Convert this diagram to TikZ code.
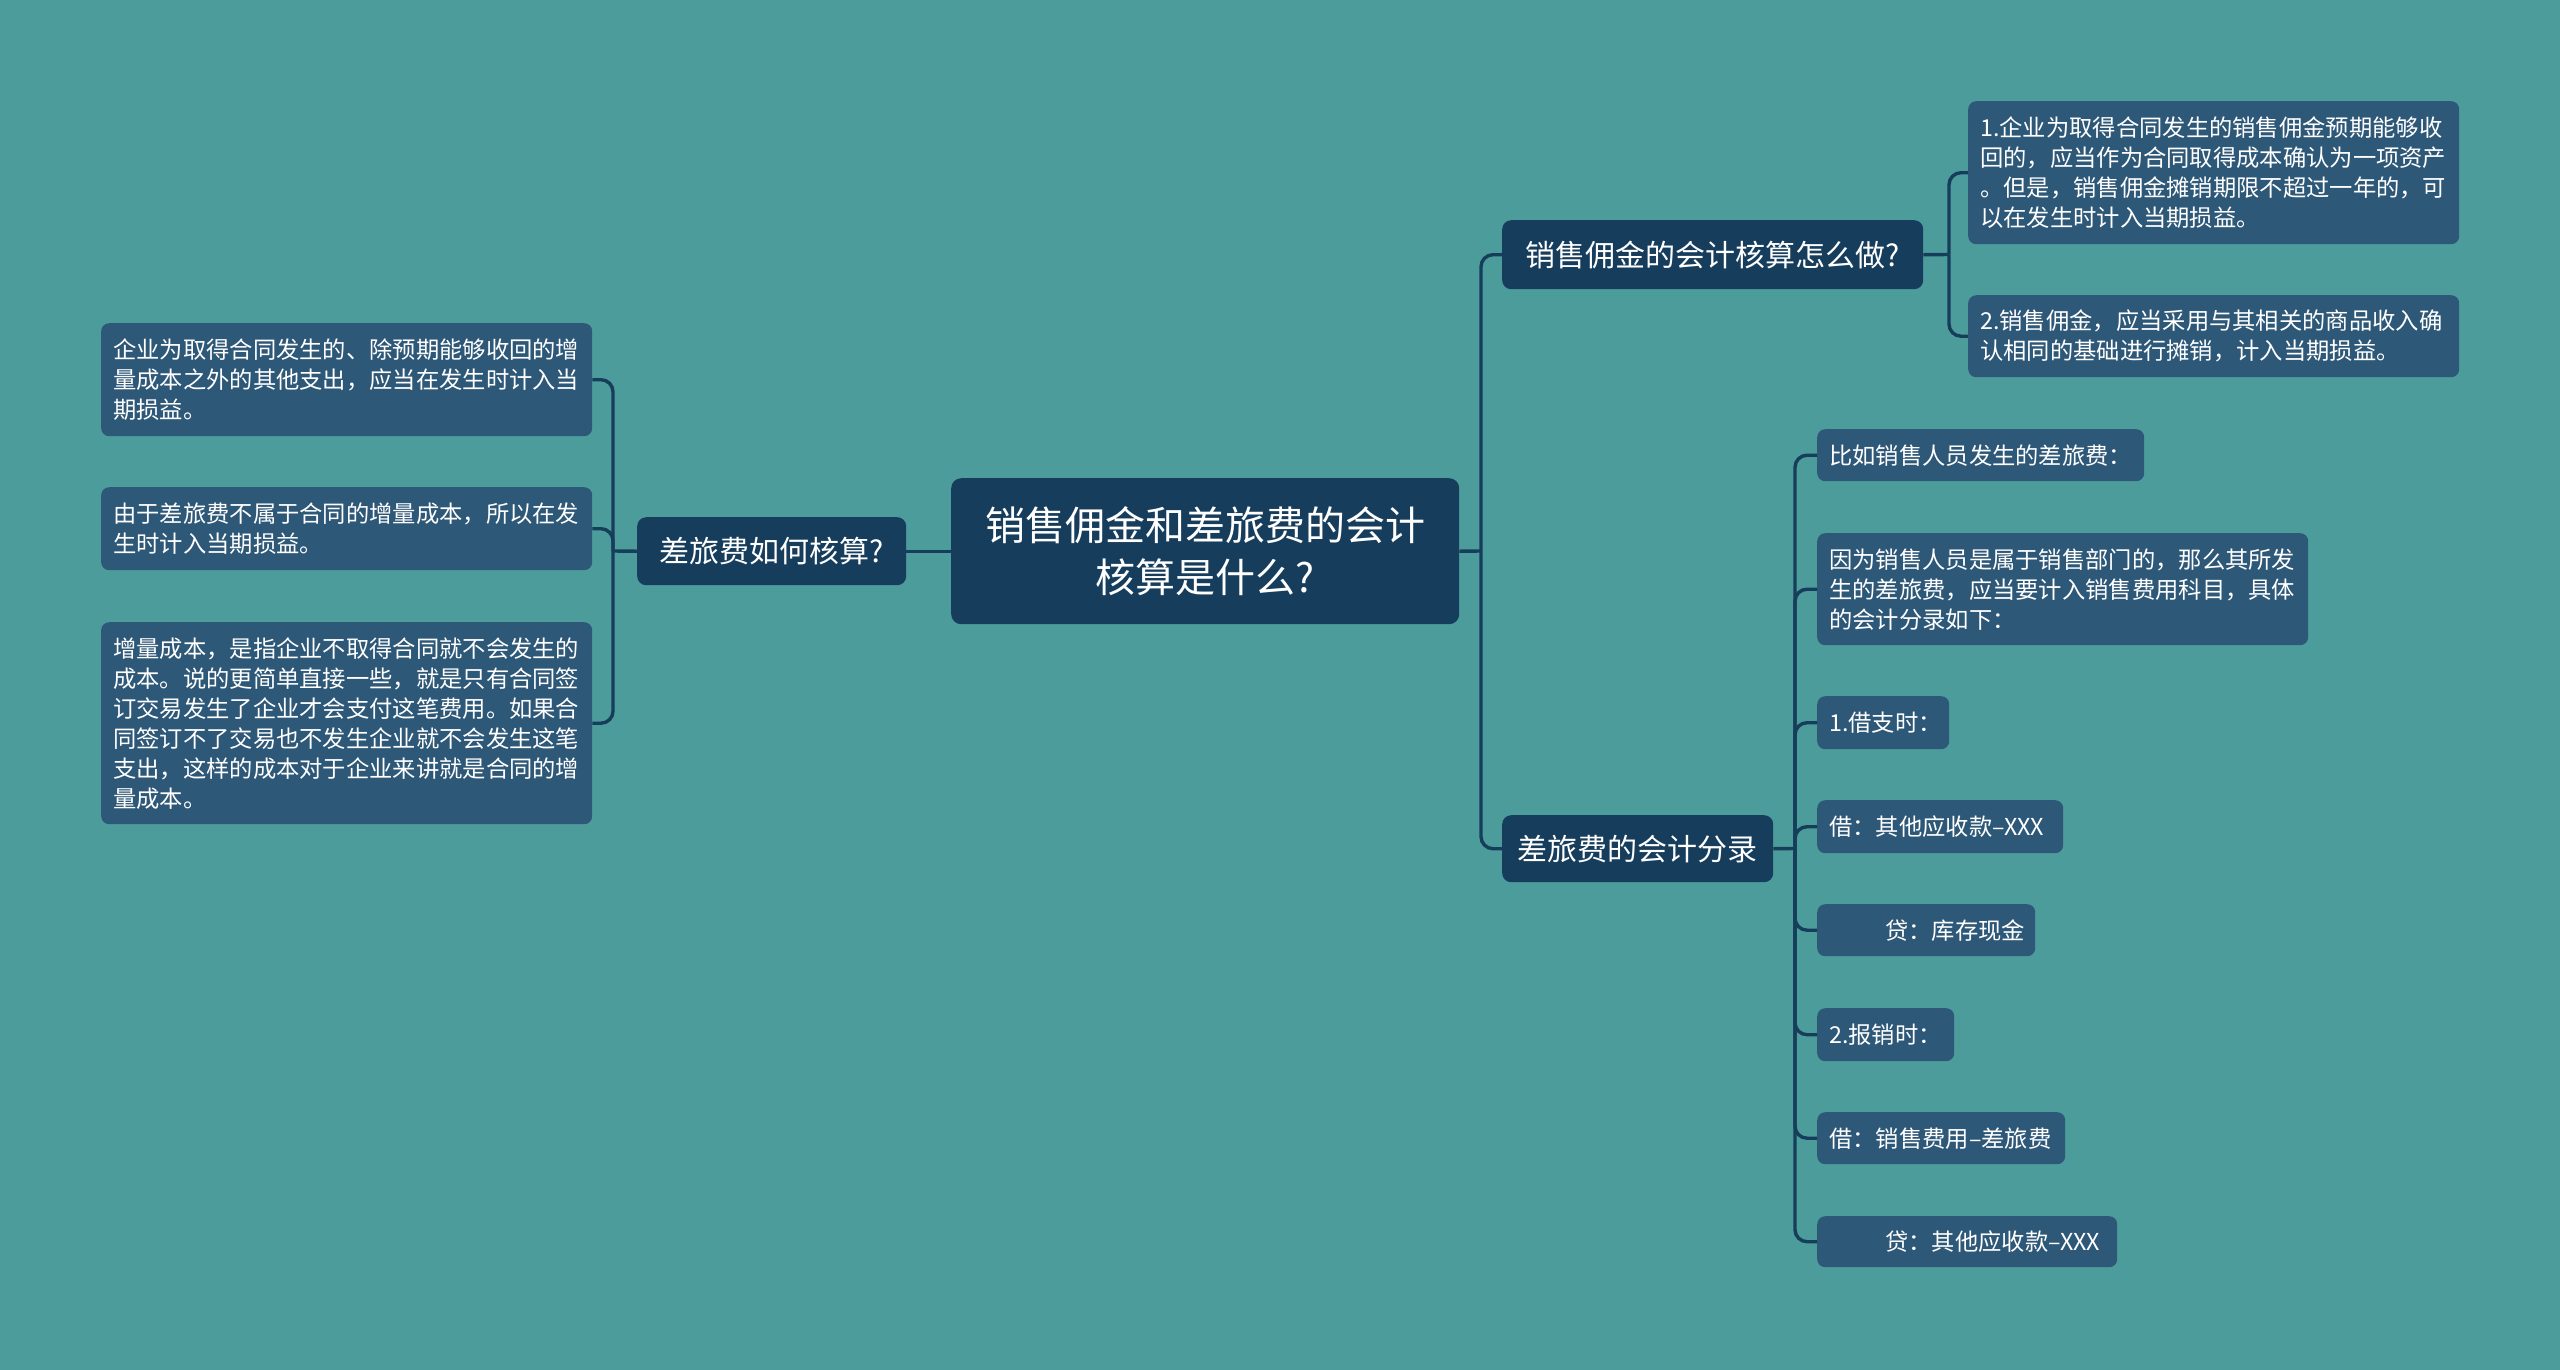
\documentclass[tikz,border=0pt]{standalone}
\usepackage{fontspec}
\setmainfont{Noto Sans CJK SC}
\definecolor{bgcol}{HTML}{4D9C9C}
\definecolor{darkfill}{HTML}{173D5C}
\definecolor{leaffill}{HTML}{2E5878}
\definecolor{linecol}{HTML}{163E5A}
\tikzset{
  rootbox/.style={fill=darkfill, rounded corners=10pt, text=white, font=\fontsize{40}{52}\selectfont, align=center, minimum width=508pt, minimum height=146pt, inner sep=0pt, anchor=north west},
  topicbox/.style={fill=darkfill, rounded corners=9pt, text=white, font=\fontsize{30}{36}\selectfont, inner sep=0pt, anchor=north west},
  leafbox/.style={fill=leaffill, rounded corners=8pt, text=white, font=\fontsize{23.3}{30}\selectfont, inner xsep=12pt, inner ysep=0pt, align=left, anchor=north west},
  link/.style={draw=linecol, line width=3.4pt},
  bendlink/.style={link, rounded corners=12pt}
}
\begin{document}
\begin{tikzpicture}[x=1pt, y=-1pt]
\useasboundingbox (0,0) rectangle (2560,1369);
\fill[bgcol] (-10,-10) rectangle (2570,1379);

% root
\node[rootbox] (root) at (951,478) {销售佣金和差旅费的会计\\核算是什么?};

% main topics
\node[topicbox, minimum width=269pt, minimum height=68pt] (l1a) at (637,517) {差旅费如何核算?};
\node[topicbox, minimum width=421pt, minimum height=69pt] (l1b) at (1502,220) {销售佣金的会计核算怎么做?};
\node[topicbox, minimum width=271pt, minimum height=67pt] (l1c) at (1502,815) {差旅费的会计分录};

% left leaves
\node[leafbox, text width=467pt, minimum height=113pt] (a1) at (101,323) {企业为取得合同发生的、除预期能够收回的增\\量成本之外的其他支出，应当在发生时计入当\\期损益。};
\node[leafbox, text width=467pt, minimum height=83pt] (a2) at (101,487) {由于差旅费不属于合同的增量成本，所以在发\\生时计入当期损益。};
\node[leafbox, text width=467pt, minimum height=202pt] (a3) at (101,622) {增量成本，是指企业不取得合同就不会发生的\\成本。说的更简单直接一些，就是只有合同签\\订交易发生了企业才会支付这笔费用。如果合\\同签订不了交易也不发生企业就不会发生这笔\\支出，这样的成本对于企业来讲就是合同的增\\量成本。};

% right leaves, group 1
\node[leafbox, text width=467pt, minimum height=143pt] (b1) at (1968,101) {1.企业为取得合同发生的销售佣金预期能够收\\回的，应当作为合同取得成本确认为一项资产\\。但是，销售佣金摊销期限不超过一年的，可\\以在发生时计入当期损益。};
\node[leafbox, text width=467pt, minimum height=82pt] (b2) at (1968,295) {2.销售佣金，应当采用与其相关的商品收入确\\认相同的基础进行摊销，计入当期损益。};

% right leaves, group 2
\node[leafbox, text width=303pt, minimum height=52pt] (c1) at (1817,429) {比如销售人员发生的差旅费：};
\node[leafbox, text width=467pt, minimum height=112pt] (c2) at (1817,533) {因为销售人员是属于销售部门的，那么其所发\\生的差旅费，应当要计入销售费用科目，具体\\的会计分录如下：};
\node[leafbox, text width=108pt, minimum height=53pt] (c3) at (1817,696) {1.借支时：};
\node[leafbox, text width=222pt, minimum height=53pt] (c4) at (1817,800) {借：其他应收款–XXX};
\node[leafbox, text width=194pt, minimum height=52pt] (c5) at (1817,904) {\hspace*{56pt}贷：库存现金};
\node[leafbox, text width=113pt, minimum height=53pt] (c6) at (1817,1008) {2.报销时：};
\node[leafbox, text width=224pt, minimum height=52pt] (c7) at (1817,1112) {借：销售费用–差旅费};
\node[leafbox, text width=276pt, minimum height=51pt] (c8) at (1817,1216) {\hspace*{56pt}贷：其他应收款–XXX};

% junction points
\coordinate (jl) at (613,551);
\coordinate (jr) at (1481,551);
\coordinate (jb) at (1949,254.5);
\coordinate (jc) at (1795,848.5);

% connectors
\draw[link] (root.west) -- (l1a.east);
\draw[link] (l1a.west) -- (jl);
\draw[bendlink] (jl) |- (a1.east);
\draw[bendlink] (jl) |- (a2.east);
\draw[bendlink] (jl) |- (a3.east);

\draw[link] (root.east) -- (jr);
\draw[bendlink] (jr) |- (l1b.west);
\draw[bendlink] (jr) |- (l1c.west);

\draw[link] (l1b.east) -- (jb);
\draw[bendlink] (jb) |- (b1.west);
\draw[bendlink] (jb) |- (b2.west);

\draw[link] (l1c.east) -- (jc);
\draw[bendlink] (jc) |- (c1.west);
\draw[bendlink] (jc) |- (c2.west);
\draw[bendlink] (jc) |- (c3.west);
\draw[bendlink] (jc) |- (c4.west);
\draw[bendlink] (jc) |- (c5.west);
\draw[bendlink] (jc) |- (c6.west);
\draw[bendlink] (jc) |- (c7.west);
\draw[bendlink] (jc) |- (c8.west);
\end{tikzpicture}
\end{document}
